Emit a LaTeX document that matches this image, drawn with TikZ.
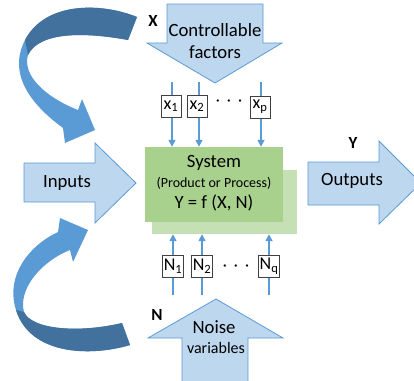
\documentclass[tikz,border=0pt]{standalone}
\usepackage{fontspec}
\setmainfont{Carlito}
\usetikzlibrary{arrows.meta}

\definecolor{blockfill}{HTML}{BDD7EE}
\definecolor{accent}{HTML}{5B9BD5}
\definecolor{accentdark}{HTML}{41719C}
\definecolor{sysfront}{HTML}{A9D18E}
\definecolor{sysback}{HTML}{C5E0B4}
\definecolor{boxline}{HTML}{404040}

\tikzset{
  blockarrow/.style={fill=blockfill, draw=accent, line width=0.8pt, line join=miter},
  bigtxt/.style={font=\fontsize{18.7}{22}\selectfont, inner sep=0pt},
  smalltxt/.style={font=\fontsize{14}{16}\selectfont, inner sep=0pt},
  tag/.style={font=\fontsize{17}{19}\selectfont\bfseries, inner sep=0pt},
  factor/.style={draw=boxline, fill=white, line width=0.8pt, inner sep=1pt,
    minimum width=20pt, minimum height=22pt, font=\fontsize{18}{20}\selectfont},
  sig/.style={draw=accent, line width=1.6pt, -{Triangle[width=7pt,length=7pt]}},
  dots/.style={font=\fontsize{16}{18}\selectfont, inner sep=0pt}
}

\begin{document}
\begin{tikzpicture}[x=1pt, y=-1pt]
\useasboundingbox (0,0) rectangle (414,380);
\clip (0,0) rectangle (414,380);

% curved feedback arrow, upper one: front face then darker back face
\fill[accent] (137,17) .. controls (100,2) and (45,2) .. (25,40)
  .. controls (12,65) and (18,95) .. (63,128) -- (65,143) -- (95,130)
  -- (82,99) -- (78,110) .. controls (45,97) and (22,75) .. (28,55)
  .. controls (40,30) and (90,33) .. (128,40) -- cycle;
\fill[accentdark] (137,17) .. controls (100,2) and (45,2) .. (25,40)
  -- (28,55) .. controls (40,30) and (90,33) .. (128,40) -- cycle;

% curved feedback arrow, lower one
\fill[accent] (130,345) .. controls (90,357) and (30,355) .. (16,310)
  .. controls (5,275) and (30,245) .. (58,232) -- (60,218) -- (88,230)
  -- (73,262) -- (70,250) .. controls (40,262) and (18,290) .. (24,312)
  .. controls (32,330) and (80,333) .. (122,323) -- cycle;
\fill[accentdark] (130,345) .. controls (90,357) and (30,355) .. (16,310)
  -- (24,312) .. controls (32,330) and (80,333) .. (122,323) -- cycle;

% block arrows
\draw[blockarrow] (167,4) -- (263,4) -- (263,43) -- (282,43) -- (215,83)
  -- (147,43) -- (167,43) -- cycle;
\draw[blockarrow] (216,299) -- (283,338) -- (248,338) -- (248,384)
  -- (182,384) -- (182,338) -- (148,338) -- cycle;
\draw[blockarrow] (24,163) -- (95,163) -- (95,143) -- (136,183) -- (95,223)
  -- (95,202) -- (24,202) -- cycle;
\draw[blockarrow] (308,162) -- (379,162) -- (379,141) -- (421,183)
  -- (379,224) -- (379,205) -- (308,205) -- cycle;

\node[bigtxt] (ctrl1) at (215,30) {Controllable};
\node[bigtxt] (ctrl2) at (215,52) {factors};
\node[bigtxt] (noise1) at (214,327) {Noise};
\node[bigtxt, font=\fontsize{16}{18}\selectfont] (noise2) at (216,348) {variables};
\node[bigtxt] (inputs) at (67,183) {Inputs};
\node[bigtxt] (outputs) at (352,181) {Outputs};

\node[tag] (lx) at (153,21) {X};
\node[tag] (ly) at (353,143) {Y};
\node[tag] (ln) at (157,315) {N};

% the system
\node[fill=sysback, minimum width=145pt, minimum height=64pt, inner sep=0pt]
  (back) at (224.5,202) {};
\node[fill=sysfront, minimum width=138pt, minimum height=75pt, inner sep=0pt]
  (sys) at (214,184.5) {};
\node[bigtxt] (systitle) at (214,163) {System};
\node[smalltxt] (sysdesc) at (214,183) {(Product or Process)};
\node[bigtxt] (sysfn) at (214,203) {Y = f (X, N)};

% controllable inputs
\coordinate (t1) at (172,82);
\coordinate (t2) at (199,82);
\coordinate (tp) at (261,82);
\foreach \c in {t1,t2,tp}
  \draw[sig] (\c) -- (\c |- sys.north);
\node[factor] (x1) at (171,106) {x\textsubscript{1}};
\node[factor] (x2) at (197,106) {x\textsubscript{2}};
\node[factor] (xp) at (260,107) {x\textsubscript{p}};
\node[dots] (xdots) at (229,103) {·\hspace{7pt}·\hspace{7pt}·};

% noise inputs
\coordinate (b1) at (173,295);
\coordinate (b2) at (202,295);
\coordinate (bq) at (269,295);
\foreach \c in {b1,b2,bq}
  \draw[sig] (\c) -- (\c |- back.south);
\node[factor] (n1) at (173,266) {N\textsubscript{1}};
\node[factor] (n2) at (202,266) {N\textsubscript{2}};
\node[factor] (nq) at (269,266) {N\textsubscript{q}};
\node[dots] (ndots) at (236,268) {·\hspace{7pt}·\hspace{7pt}·};
\end{tikzpicture}
\end{document}
